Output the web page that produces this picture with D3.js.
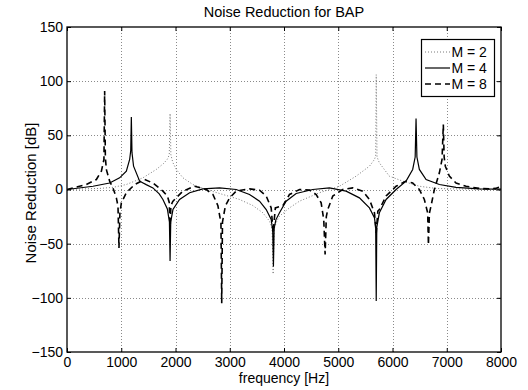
<!DOCTYPE html>
<html>
<head>
<meta charset="utf-8">
<script src="https://cdn.jsdelivr.net/npm/d3@7"></script>
<style>
  html, body { margin: 0; padding: 0; background: #fff; }
  svg { display: block; }
  text { font-family: Arial, "Liberation Sans", Helvetica, sans-serif; fill: #000; }
</style>
</head>
<body>
<svg id="chart" width="528" height="390"></svg>
<script>
// ---- data ----
const titleText = "Noise Reduction for BAP";
const xLabel = "frequency [Hz]";
const yLabel = "Noise Reduction [dB]";
const xTicks = [0, 1000, 2000, 3000, 4000, 5000, 6000, 7000, 8000];
const yTicks = [-150, -100, -50, 0, 50, 100, 150];
const seriesNames = ["M = 2", "M = 4", "M = 8"];

const freqM2 = [0, 300, 600, 850, 1093, 1400, 1646, 1780, 1850, 1885, 1900, 1915, 1950, 2015, 2137, 2320, 2567, 2873, 3180, 3425, 3610, 3733, 3780, 3800, 3820, 3870, 3917, 4100, 4285, 4653, 5022, 5329, 5575, 5667, 5690, 5700, 5715, 5758, 5942, 6188, 6496, 6800, 7200, 7600, 8000];
const valM2  = [0, 0.5, 1, 2, 4.6, 10.8, 18.5, 24, 28, 32, 70, 32, 25, 18.5, 10.8, 4.6, 0, -4.6, -9.2, -14.8, -21.5, -29.2, -36, -78, -36, -29, -24.6, -17, -10.8, -3, 3, 12.3, 21.5, 27.7, 31, 106, 30, 24.6, 12.3, 7.7, 3, 1, 0.5, 0.2, 0];

const freqM4 = [0, 479, 786, 970, 1094, 1155, 1175, 1186, 1198, 1227, 1339, 1460, 1584, 1700, 1768, 1850, 1888, 1900, 1912, 1953, 2075, 2260, 2505, 2812, 3119, 3364, 3549, 3672, 3764, 3792, 3805, 3818, 3850, 3917, 4039, 4224, 4530, 4838, 5145, 5390, 5575, 5667, 5690, 5700, 5710, 5758, 5882, 6066, 6250, 6372, 6418, 6434, 6450, 6495, 6619, 6864, 7171, 7600, 8000];
const valM4  = [0, 3, 6, 10.8, 17, 27.7, 36, 67, 34, 21.5, 7.7, 4.5, 1.5, -4, -9.2, -18, -30, -66, -30, -18.5, -9.2, -3, 0.6, 1.5, 0, -4.6, -10.8, -18.5, -27.7, -38, -71, -36, -28, -21.5, -10.8, -3.7, 0, 1.5, -1.5, -7.7, -17, -26, -35, -103, -35, -21.5, -9.2, 0, 7.7, 18.5, 30, 65.5, 30, 18.5, 9.2, 4.6, 2, 0.6, 0.3];

const freqM8 = [0, 110, 357, 541, 634, 681, 694, 707, 725, 786, 847, 910, 940, 958, 975, 1002, 1094, 1247, 1431, 1584, 1768, 1850, 1885, 1900, 1915, 1950, 1983, 2137, 2352, 2567, 2690, 2782, 2838, 2852, 2866, 2920, 2997, 3119, 3364, 3549, 3672, 3764, 3800, 3840, 3978, 4101, 4285, 4470, 4593, 4685, 4733, 4758, 4780, 4807, 4899, 5083, 5267, 5451, 5575, 5667, 5700, 5730, 5758, 5882, 6066, 6250, 6372, 6495, 6587, 6648, 6662, 6680, 6711, 6772, 6864, 6913, 6937, 6952, 6974, 7048, 7171, 7356, 7600, 7800, 7900, 7960, 8000];
const valM8  = [0, 1.5, 4.6, 9.2, 17, 27.7, 91, 30, 18.5, 7.7, 1.5, -7.7, -15.4, -54, -22, -12.3, -3, 4.6, 9.2, 6, -1.5, -6, -12, -38, -15, -11, -9.2, -1.5, 3, 0, -4.6, -15, -31, -105, -30, -15, -7.7, -1.5, 0.6, -0.6, -6, -17, -40, -17, -15, -4.6, 0, -0.6, -4.6, -12.3, -28, -60, -25, -18.5, -6, 0, 1.5, -1.5, -9.2, -21.5, -40, -20, -18.5, -6, 3, 7.7, 6, 0, -9.2, -21.5, -51, -22, -15, 0, 15.4, 27.7, 60, 30, 21.5, 12.3, 6, 3, 1, 0.5, 1, 2, 2.5];

// ---- layout ----
const svg = d3.select("#chart");
const L = 67, R = 501, T = 27, B = 352;
const x = d3.scaleLinear().domain([0, 8000]).range([L, R]);
const y = d3.scaleLinear().domain([-150, 150]).range([B, T]);

svg.append("rect").attr("width", 528).attr("height", 390).attr("fill", "#fff");

// grid
const grid = svg.append("g").attr("stroke", "#8a8a8a").attr("stroke-width", 1).attr("stroke-dasharray", "1,2");
xTicks.filter(d => d > 0 && d < 8000).forEach(d => {
  grid.append("line").attr("x1", Math.round(x(d)) + 0.5).attr("x2", Math.round(x(d)) + 0.5).attr("y1", T).attr("y2", B);
});
yTicks.filter(d => d > -150 && d < 150).forEach(d => {
  grid.append("line").attr("y1", Math.round(y(d)) + 0.5).attr("y2", Math.round(y(d)) + 0.5).attr("x1", L).attr("x2", R);
});

// clip
svg.append("clipPath").attr("id", "clip").append("rect").attr("x", L).attr("y", T).attr("width", R - L).attr("height", B - T);

const plot = svg.append("g").attr("clip-path", "url(#clip)");
const line = d3.line().x(d => x(d[0])).y(d => y(d[1]));
const mk = (f, v) => f.map((ff, i) => [ff, v[i]]);

const styles = [
  { data: mk(freqM2, valM2), stroke: "#7a7a7a", width: 1, dash: "1,2" },
  { data: mk(freqM4, valM4), stroke: "#000", width: 1.2, dash: null },
  { data: mk(freqM8, valM8), stroke: "#000", width: 1.6, dash: "6,4" }
];
styles.forEach(s => {
  plot.append("path").datum(s.data).attr("d", line)
    .attr("fill", "none").attr("stroke", s.stroke).attr("stroke-width", s.width)
    .attr("stroke-dasharray", s.dash).attr("stroke-linejoin", "miter");
});

// axes
const axB = svg.append("g").attr("transform", `translate(0,${B})`)
  .call(d3.axisBottom(x).tickValues(xTicks).tickFormat(d => d).tickSizeInner(-4).tickSizeOuter(0).tickPadding(5));
const axT = svg.append("g").attr("transform", `translate(0,${T})`)
  .call(d3.axisTop(x).tickValues(xTicks).tickFormat("").tickSizeInner(-4).tickSizeOuter(0));
const axL = svg.append("g").attr("transform", `translate(${L},0)`)
  .call(d3.axisLeft(y).tickValues(yTicks).tickFormat(d => d < 0 ? "\u2212" + Math.abs(d) : d).tickSizeInner(-4).tickSizeOuter(0).tickPadding(4));
const axR = svg.append("g").attr("transform", `translate(${R},0)`)
  .call(d3.axisRight(y).tickValues(yTicks).tickFormat("").tickSizeInner(-4).tickSizeOuter(0));
[axB, axT, axL, axR].forEach(a => {
  a.select(".domain").remove();
  a.selectAll("line").attr("stroke", "#000");
  a.selectAll("text").attr("font-size", 14).attr("font-family", "Arial, 'Liberation Sans', sans-serif").attr("fill", "#000");
});

// box
svg.append("rect").attr("x", L).attr("y", T).attr("width", R - L).attr("height", B - T)
  .attr("fill", "none").attr("stroke", "#000").attr("stroke-width", 1.3);

// title and labels
svg.append("text").attr("x", (L + R) / 2).attr("y", 17).attr("text-anchor", "middle").attr("font-size", 14.5).text(titleText);
svg.append("text").attr("x", (L + R) / 2).attr("y", 383).attr("text-anchor", "middle").attr("font-size", 14).text(xLabel);
svg.append("text").attr("transform", `translate(36,193) rotate(-90)`).attr("text-anchor", "middle").attr("font-size", 15).text(yLabel);

// legend
const lg = svg.append("g");
lg.append("rect").attr("x", 421.5).attr("y", 39.5).attr("width", 73).attr("height", 57)
  .attr("fill", "#fff").attr("stroke", "#000").attr("stroke-width", 1.2);
const rows = [52, 68, 84];
styles.forEach((s, i) => {
  lg.append("line").attr("x1", 425).attr("x2", 450).attr("y1", rows[i]).attr("y2", rows[i])
    .attr("stroke", s.stroke).attr("stroke-width", s.width).attr("stroke-dasharray", s.dash);
  lg.append("text").attr("x", 451.5).attr("y", rows[i] + 5).attr("font-size", 14).text(seriesNames[i]);
});
</script>
</body>
</html>
